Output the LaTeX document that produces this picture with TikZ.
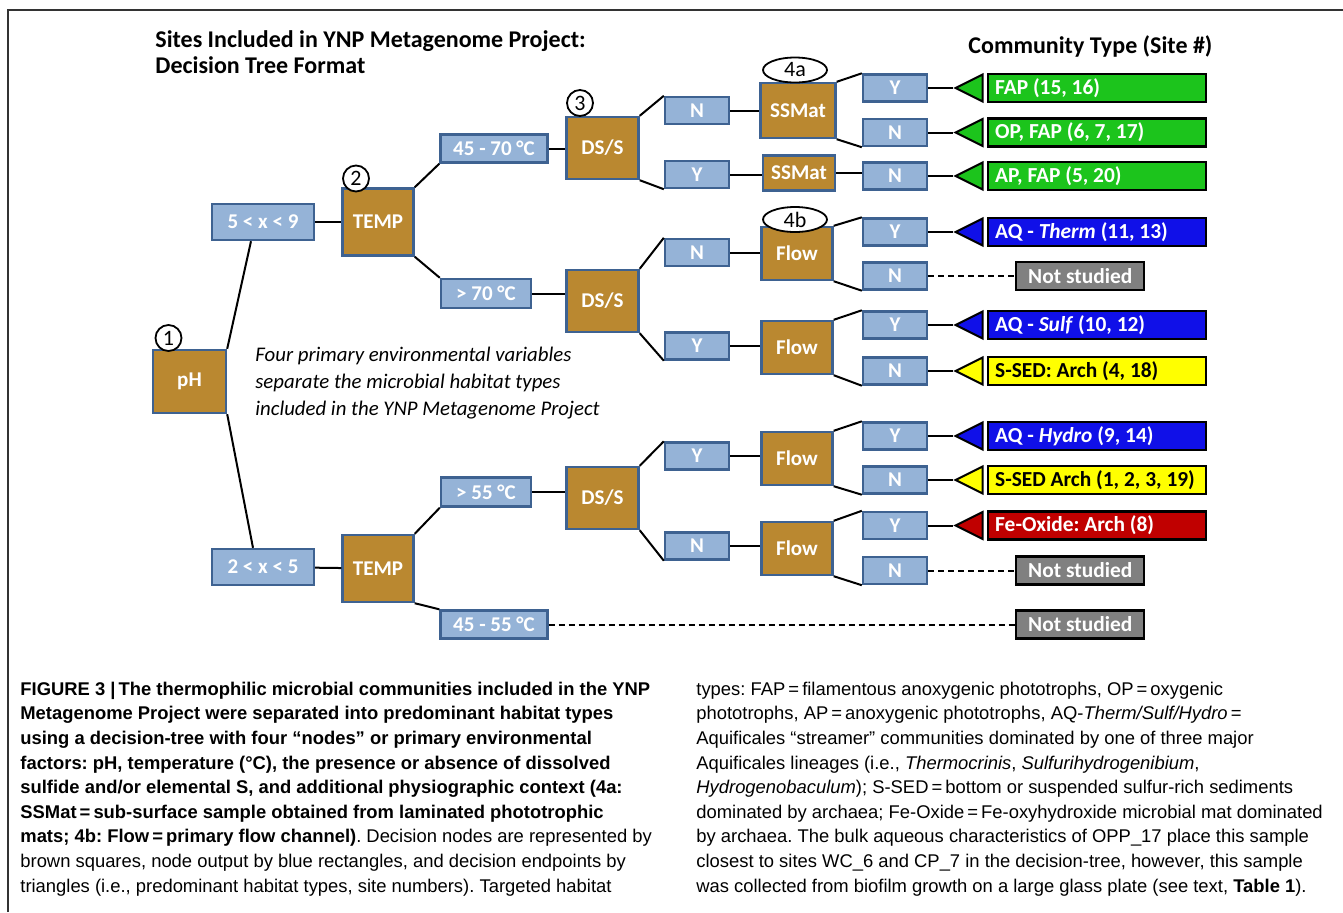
\documentclass[tikz,border=0pt]{standalone}
\usepackage{fontspec}
\setmainfont{Carlito}
\newfontfamily\capfont{Liberation Sans}
\usetikzlibrary{shapes.geometric}
\definecolor{decbrown}{RGB}{186,136,48}
\definecolor{outblue}{RGB}{149,179,215}
\definecolor{rimblue}{RGB}{62,98,145}
\definecolor{resgreen}{RGB}{28,196,28}
\definecolor{resblue}{RGB}{16,16,232}
\definecolor{resyellow}{RGB}{255,255,0}
\definecolor{resred}{RGB}{192,0,0}
\definecolor{resgray}{RGB}{128,128,128}

\begin{document}
\begin{tikzpicture}[x=0.5pt,y=-0.5pt,
  dec/.style={draw=rimblue,line width=1.2pt,fill=decbrown,text=white,inner sep=0pt,font=\fontsize{10.5}{12}\selectfont\bfseries},
  opt/.style={draw=rimblue,line width=1.2pt,fill=outblue,text=white,inner sep=0pt,font=\fontsize{10.5}{12}\selectfont\bfseries},
  yn/.style={opt,minimum width=32pt,minimum height=13.5pt},
  endtri/.style={isosceles triangle,isosceles triangle stretches,shape border rotate=180,draw=black,line width=1pt,minimum width=13.5pt,minimum height=13.5pt,inner sep=0pt,anchor=apex},
  site/.style={draw=black,line width=1.2pt,text=white,anchor=west,minimum height=14pt,inner ysep=0pt,inner xsep=3.5pt,text width=102pt,align=flush left,font=\fontsize{10.7}{12}\selectfont\bfseries\frenchspacing},
  nostudy/.style={draw=black,line width=1.2pt,fill=resgray,text=white,anchor=west,minimum width=64pt,minimum height=14pt,inner sep=0pt,font=\fontsize{10.7}{12}\selectfont\bfseries},
  num/.style={circle,draw,line width=0.9pt,fill=white,minimum size=13pt,inner sep=0pt,font=\fontsize{11}{12}\selectfont},
  tag/.style={ellipse,draw,line width=0.9pt,fill=white,minimum width=32pt,minimum height=12.5pt,inner sep=0pt,font=\fontsize{11}{12}\selectfont},
  link/.style={line width=1pt},
  nolink/.style={line width=1pt,dash pattern=on 3pt off 2pt}]
\useasboundingbox (0,0) rectangle (1343,912);
\draw[line width=0.6pt,black!80] (8,912) -- (8,10) -- (1343,10);

\node[anchor=base west,align=left,inner sep=0pt,font=\fontsize{12}{13}\selectfont\bfseries] (title) at (155,73) {Sites Included in YNP Metagenome Project:\\Decision Tree Format};
\node[anchor=base west,inner sep=0pt,font=\fontsize{12}{13}\selectfont\bfseries] (ctype) at (968,53) {Community Type (Site \#)};
\node[anchor=base west,align=left,inner sep=0pt,font=\fontsize{10.4}{13.5}\selectfont\itshape] (note) at (255,415) {Four primary environmental variables\\separate the microbial habitat types\\included in the YNP Metagenome Project};

\node[dec,minimum width=36.5pt,minimum height=31.5pt] (ph) at (189.5,381.5) {pH};
\node[opt,minimum width=51pt,minimum height=18pt] (b59) at (263,222) {5 < x < 9};
\node[opt,minimum width=51pt,minimum height=18pt] (b25) at (263,567) {2 < x < 5};
\node[dec,minimum width=35.5pt,minimum height=33.5pt] (temp1) at (378,222) {TEMP};
\node[dec,minimum width=35.5pt,minimum height=33.5pt] (temp2) at (378,568.5) {TEMP};
\node[opt,minimum width=53.5pt,minimum height=14pt] (t4570) at (494,148.5) {45 - 70 °C};
\node[opt,minimum width=45pt,minimum height=14.5pt] (t70) at (486,293.5) {> 70 °C};
\node[opt,minimum width=45pt,minimum height=14.5pt] (t55) at (486,492) {> 55 °C};
\node[opt,minimum width=53.5pt,minimum height=14pt] (t4555) at (494,624.5) {45 - 55 °C};
\node[dec,minimum width=36pt,minimum height=31pt] (ds1) at (602.5,148) {DS/S};
\node[dec,minimum width=36pt,minimum height=31pt] (ds2) at (602.5,301) {DS/S};
\node[dec,minimum width=36pt,minimum height=31pt] (ds3) at (602.5,498) {DS/S};
\node[yn] (n1) at (697,110.5) {N};
\node[yn] (y1) at (697,174.5) {Y};
\node[yn] (n2) at (697,252.5) {N};
\node[yn] (y2) at (697,346) {Y};
\node[yn] (y3) at (697,456) {Y};
\node[yn] (n3) at (697,546) {N};
\node[dec,minimum width=37.5pt,minimum height=27.5pt] (ss1) at (798,110.5) {SSMat};
\node[dec,minimum width=36pt,minimum height=17.5pt] (ss2) at (799,173) {SSMat};
\node[dec,minimum width=35.5pt,minimum height=26.5pt] (fl1) at (797,253.5) {Flow};
\node[dec,minimum width=35.5pt,minimum height=26.5pt] (fl2) at (797,347.5) {Flow};
\node[dec,minimum width=35.5pt,minimum height=26.5pt] (fl3) at (797,458.5) {Flow};
\node[dec,minimum width=35.5pt,minimum height=26.5pt] (fl4) at (797,548.5) {Flow};

\node[yn] (la) at (895,88) {Y};
\node[yn] (lb) at (895,132.5) {N};
\node[yn] (lc) at (895,176) {N};
\node[yn] (ld) at (895,232) {Y};
\node[yn] (le) at (895,276) {N};
\node[yn] (lf) at (895,325) {Y};
\node[yn] (lg) at (895,371) {N};
\node[yn] (lh) at (895,436) {Y};
\node[yn] (li) at (895,480) {N};
\node[yn] (lj) at (895,525.5) {Y};
\node[yn] (lk) at (895,570.5) {N};

\node[endtri,fill=resgreen] (ta) at (953,88) {};
\node[endtri,fill=resgreen] (tb) at (953,132.5) {};
\node[endtri,fill=resgreen] (tc) at (953,176) {};
\node[endtri,fill=resblue] (td) at (953,232) {};
\node[endtri,fill=resblue] (tf) at (953,325) {};
\node[endtri,fill=resyellow] (tg) at (953,371) {};
\node[endtri,fill=resblue] (th) at (953,436) {};
\node[endtri,fill=resyellow] (ti) at (953,480) {};
\node[endtri,fill=resred] (tj) at (953,525.5) {};

\node[site,fill=resgreen] (ra) at (987,88) {FAP (15, 16)};
\node[site,fill=resgreen] (rb) at (987,132.5) {OP, FAP (6, 7, 17)};
\node[site,fill=resgreen] (rc) at (987,176) {AP, FAP (5, 20)};
\node[site,fill=resblue] (rd) at (987,232) {AQ - \textit{Therm} (11, 13)};
\node[site,fill=resblue] (rf) at (987,325) {AQ - \textit{Sulf} (10, 12)};
\node[site,fill=resyellow,text=black] (rg) at (987,371) {S-SED: Arch (4, 18)};
\node[site,fill=resblue] (rh) at (987,436) {AQ - \textit{Hydro} (9, 14)};
\node[site,fill=resyellow,text=black] (ri) at (987,480) {S-SED Arch (1, 2, 3, 19)};
\node[site,fill=resred] (rj) at (987,525.5) {Fe-Oxide: Arch (8)};
\node[nostudy] (ne) at (1015,276) {Not studied};
\node[nostudy] (nk) at (1015,570.5) {Not studied};
\node[nostudy] (nm) at (1015,624.5) {Not studied};

\draw[link] (ph.north east) -- ([xshift=-6pt]b59.south);
\draw[link] (ph.south east) -- ([xshift=-5pt]b25.north);
\draw[link] (b59) -- (temp1);
\draw[link] (b25) -- (temp2);
\draw[link] (temp1.north east) -- (t4570.south west);
\draw[link] (temp1.south east) -- (t70.north west);
\draw[link] (temp2.north east) -- (t55.south west);
\draw[link] (temp2.south east) -- (t4555.north west);
\draw[link] (t4570.east) -- (t4570.east -| ds1.west);
\draw[link] (t70.east) -- (t70.east -| ds2.west);
\draw[link] (t55.east) -- (t55.east -| ds3.west);
\draw[nolink] (t4555.east) -- (nm.west);
\draw[link] (ds1.north east) -- (n1.north west);
\draw[link] (ds1.south east) -- (y1.south west);
\draw[link] (ds2.north east) -- (n2.north west);
\draw[link] (ds2.south east) -- (y2.south west);
\draw[link] (ds3.north east) -- (y3.north west);
\draw[link] (ds3.south east) -- (n3.south west);
\draw[link] (n1.east) -- (n1.east -| ss1.west);
\draw[link] (y1.east) -- (y1.east -| ss2.west);
\draw[link] (n2.east) -- (n2.east -| fl1.west);
\draw[link] (y2.east) -- (y2.east -| fl2.west);
\draw[link] (y3.east) -- (y3.east -| fl3.west);
\draw[link] (n3.east) -- (n3.east -| fl4.west);
\draw[link] (ss1.north east) -- (la.north west);
\draw[link] (ss1.south east) -- (lb.south west);
\draw[link] (ss2.east) -- (ss2.east -| lc.west);
\draw[link] (fl1.north east) -- (ld.north west);
\draw[link] (fl1.south east) -- (le.south west);
\draw[link] (fl2.north east) -- (lf.north west);
\draw[link] (fl2.south east) -- (lg.south west);
\draw[link] (fl3.north east) -- (lh.north west);
\draw[link] (fl3.south east) -- (li.south west);
\draw[link] (fl4.north east) -- (lj.north west);
\draw[link] (fl4.south east) -- (lk.south west);
\draw[link] (la) -- (ta.apex);
\draw[link] (lb) -- (tb.apex);
\draw[link] (lc) -- (tc.apex);
\draw[link] (ld) -- (td.apex);
\draw[link] (lf) -- (tf.apex);
\draw[link] (lg) -- (tg.apex);
\draw[link] (lh) -- (th.apex);
\draw[link] (li) -- (ti.apex);
\draw[link] (lj) -- (tj.apex);
\draw[nolink] (le) -- (ne);
\draw[nolink] (lk) -- (nk);

\node[num] (c1) at (168.5,338) {1};
\node[num] (c2) at (356,178.5) {2};
\node[num] (c3) at (580,103) {3};
\node[tag] (c4a) at (795,70) {4a};
\node[tag] (c4b) at (795,219.5) {4b};

\node[anchor=base west,align=left,inner sep=0pt,font=\capfont\fontsize{9.2}{12.3}\selectfont\frenchspacing] (capl) at (20,892) {\bfseries FIGURE 3 |\,The thermophilic microbial communities included in the YNP\\\bfseries Metagenome Project were separated into predominant habitat types\\\bfseries using a decision-tree with four “nodes” or primary environmental\\\bfseries factors: pH, temperature (°C), the presence or absence of dissolved\\\bfseries sulfide and/or elemental S, and additional physiographic context (4a:\\\bfseries SSMat\,=\,sub-surface sample obtained from laminated phototrophic\\\textbf{mats; 4b: Flow\,=\,primary flow channel)}. Decision nodes are represented by\\brown squares, node output by blue rectangles, and decision endpoints by\\triangles (i.e., predominant habitat types, site numbers). Targeted habitat};
\node[anchor=base west,align=left,inner sep=0pt,font=\capfont\fontsize{9.2}{12.3}\selectfont\frenchspacing] (capr) at (696,892) {types: FAP\,=\,filamentous anoxygenic phototrophs, OP\,=\,oxygenic\\phototrophs, AP\,=\,anoxygenic phototrophs, AQ-\textit{Therm/Sulf/Hydro}\,=\\Aquificales “streamer” communities dominated by one of three major\\Aquificales lineages (i.e., \textit{Thermocrinis}, \textit{Sulfurihydrogenibium},\\\textit{Hydrogenobaculum}); S-SED\,=\,bottom or suspended sulfur-rich sediments\\dominated by archaea; Fe-Oxide\,=\,Fe-oxyhydroxide microbial mat dominated\\by archaea. The bulk aqueous characteristics of OPP\_17 place this sample\\closest to sites WC\_6 and CP\_7 in the decision-tree, however, this sample\\was collected from biofilm growth on a large glass plate (see text, \textbf{Table 1}).};
\end{tikzpicture}
\end{document}
